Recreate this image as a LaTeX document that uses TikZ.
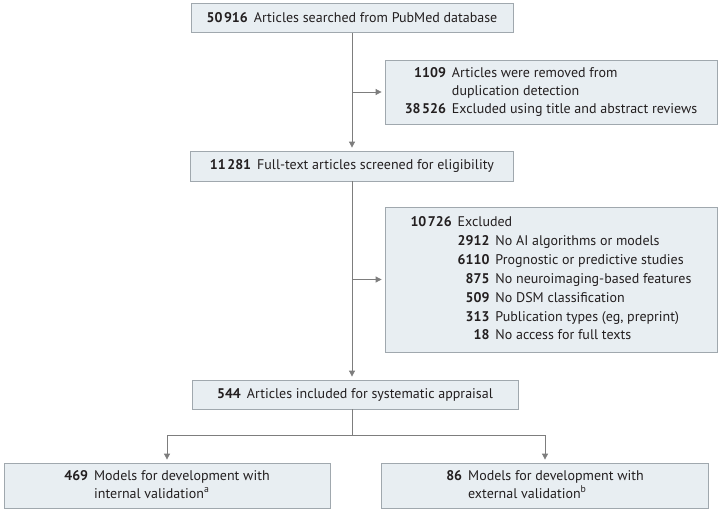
\documentclass[tikz,border=0pt]{standalone}
\usepackage{fontspec}
\setmainfont{PT Sans}
\usetikzlibrary{arrows.meta}
\definecolor{boxfill}{RGB}{232,238,242}
\definecolor{boxline}{RGB}{160,168,174}
\definecolor{flowline}{RGB}{125,125,125}
\definecolor{inkblack}{RGB}{35,31,32}
\newcommand{\num}[1]{\textbf{#1}}

\begin{document}
\begin{tikzpicture}[x=1pt,y=-1pt,
	box/.style={draw=boxline,fill=boxfill,line width=0.8pt,inner sep=0pt,text=inkblack,font=\fontsize{14}{18}\selectfont},
	flow/.style={draw=flowline,line width=0.8pt},
	flowarrow/.style={flow,-{Triangle[width=6pt,length=6pt]},shorten >=3pt}]
		\useasboundingbox (0,0) rectangle (720,512);
		%put the main column of boxes
		\node[box,minimum width=322pt,minimum height=29pt] (search) at (352,18) {\num{50\kern1.5pt916}\hspace{6pt}Articles searched from PubMed database};
		\node[box,minimum width=323pt,minimum height=30pt] (screen) at (352,166) {\num{11\kern1.5pt281}\hspace{6pt}Full-text articles screened for eligibility};
		\node[box,minimum width=326pt,minimum height=29pt] (incl) at (355,394.5) {\num{544}\hspace{6pt}Articles included for systematic appraisal};
		%put the exclusion boxes on the right
		\node[box,minimum width=332pt,minimum height=64pt] (dup) at (551,92) {\begin{tabular}{@{}r@{\hspace{6pt}}l@{}}
			\num{1109} & Articles were removed from\\
			 & duplication detection\\
			\num{38\kern1.5pt526} & Excluded using title and abstract reviews
		\end{tabular}};
		\node[box,minimum width=332pt,minimum height=145pt] (excl) at (551,279.5) {\renewcommand{\arraystretch}{1.05}\begin{tabular}{@{}r@{\hspace{6pt}}r@{\hspace{6pt}}l@{}}
			\num{10\kern1.5pt726} & \multicolumn{2}{@{}l@{}}{Excluded}\\
			 & \num{2912} & No AI algorithms or models\\
			 & \num{6110} & Prognostic or predictive studies\\
			 & \num{875} & No neuroimaging-based features\\
			 & \num{509} & No DSM classification\\
			 & \num{313} & Publication types (eg, preprint)\\
			 & \num{18} & No access for full texts
		\end{tabular}};
		%put the two model boxes at the bottom
		\node[box,minimum width=326pt,minimum height=45pt] (intv) at (167,485.5) {\begin{tabular}{@{}r@{\hspace{6pt}}l@{}}
			\num{469} & Models for development with\\
			 & internal validation\textsuperscript{a}
		\end{tabular}};
		\node[box,minimum width=327pt,minimum height=45pt] (extv) at (545,485.5) {\begin{tabular}{@{}r@{\hspace{6pt}}l@{}}
			\num{86} & Models for development with\\
			 & external validation\textsuperscript{b}
		\end{tabular}};
		\coordinate (split) at (352,435);
		%connect the boxes
		\draw[flowarrow] (search) -- (screen);
		\draw[flowarrow] (search.south |- dup.west) -- (dup.west);
		\draw[flowarrow] (screen) -- (screen.south |- incl.north);
		\draw[flowarrow] (screen.south |- excl.west) -- (excl.west);
		\draw[flow] (incl.south -| split) -- (split);
		\draw[flowarrow] (split) -| (intv.north);
		\draw[flowarrow] (split) -| (extv.north);
\end{tikzpicture}
\end{document}
